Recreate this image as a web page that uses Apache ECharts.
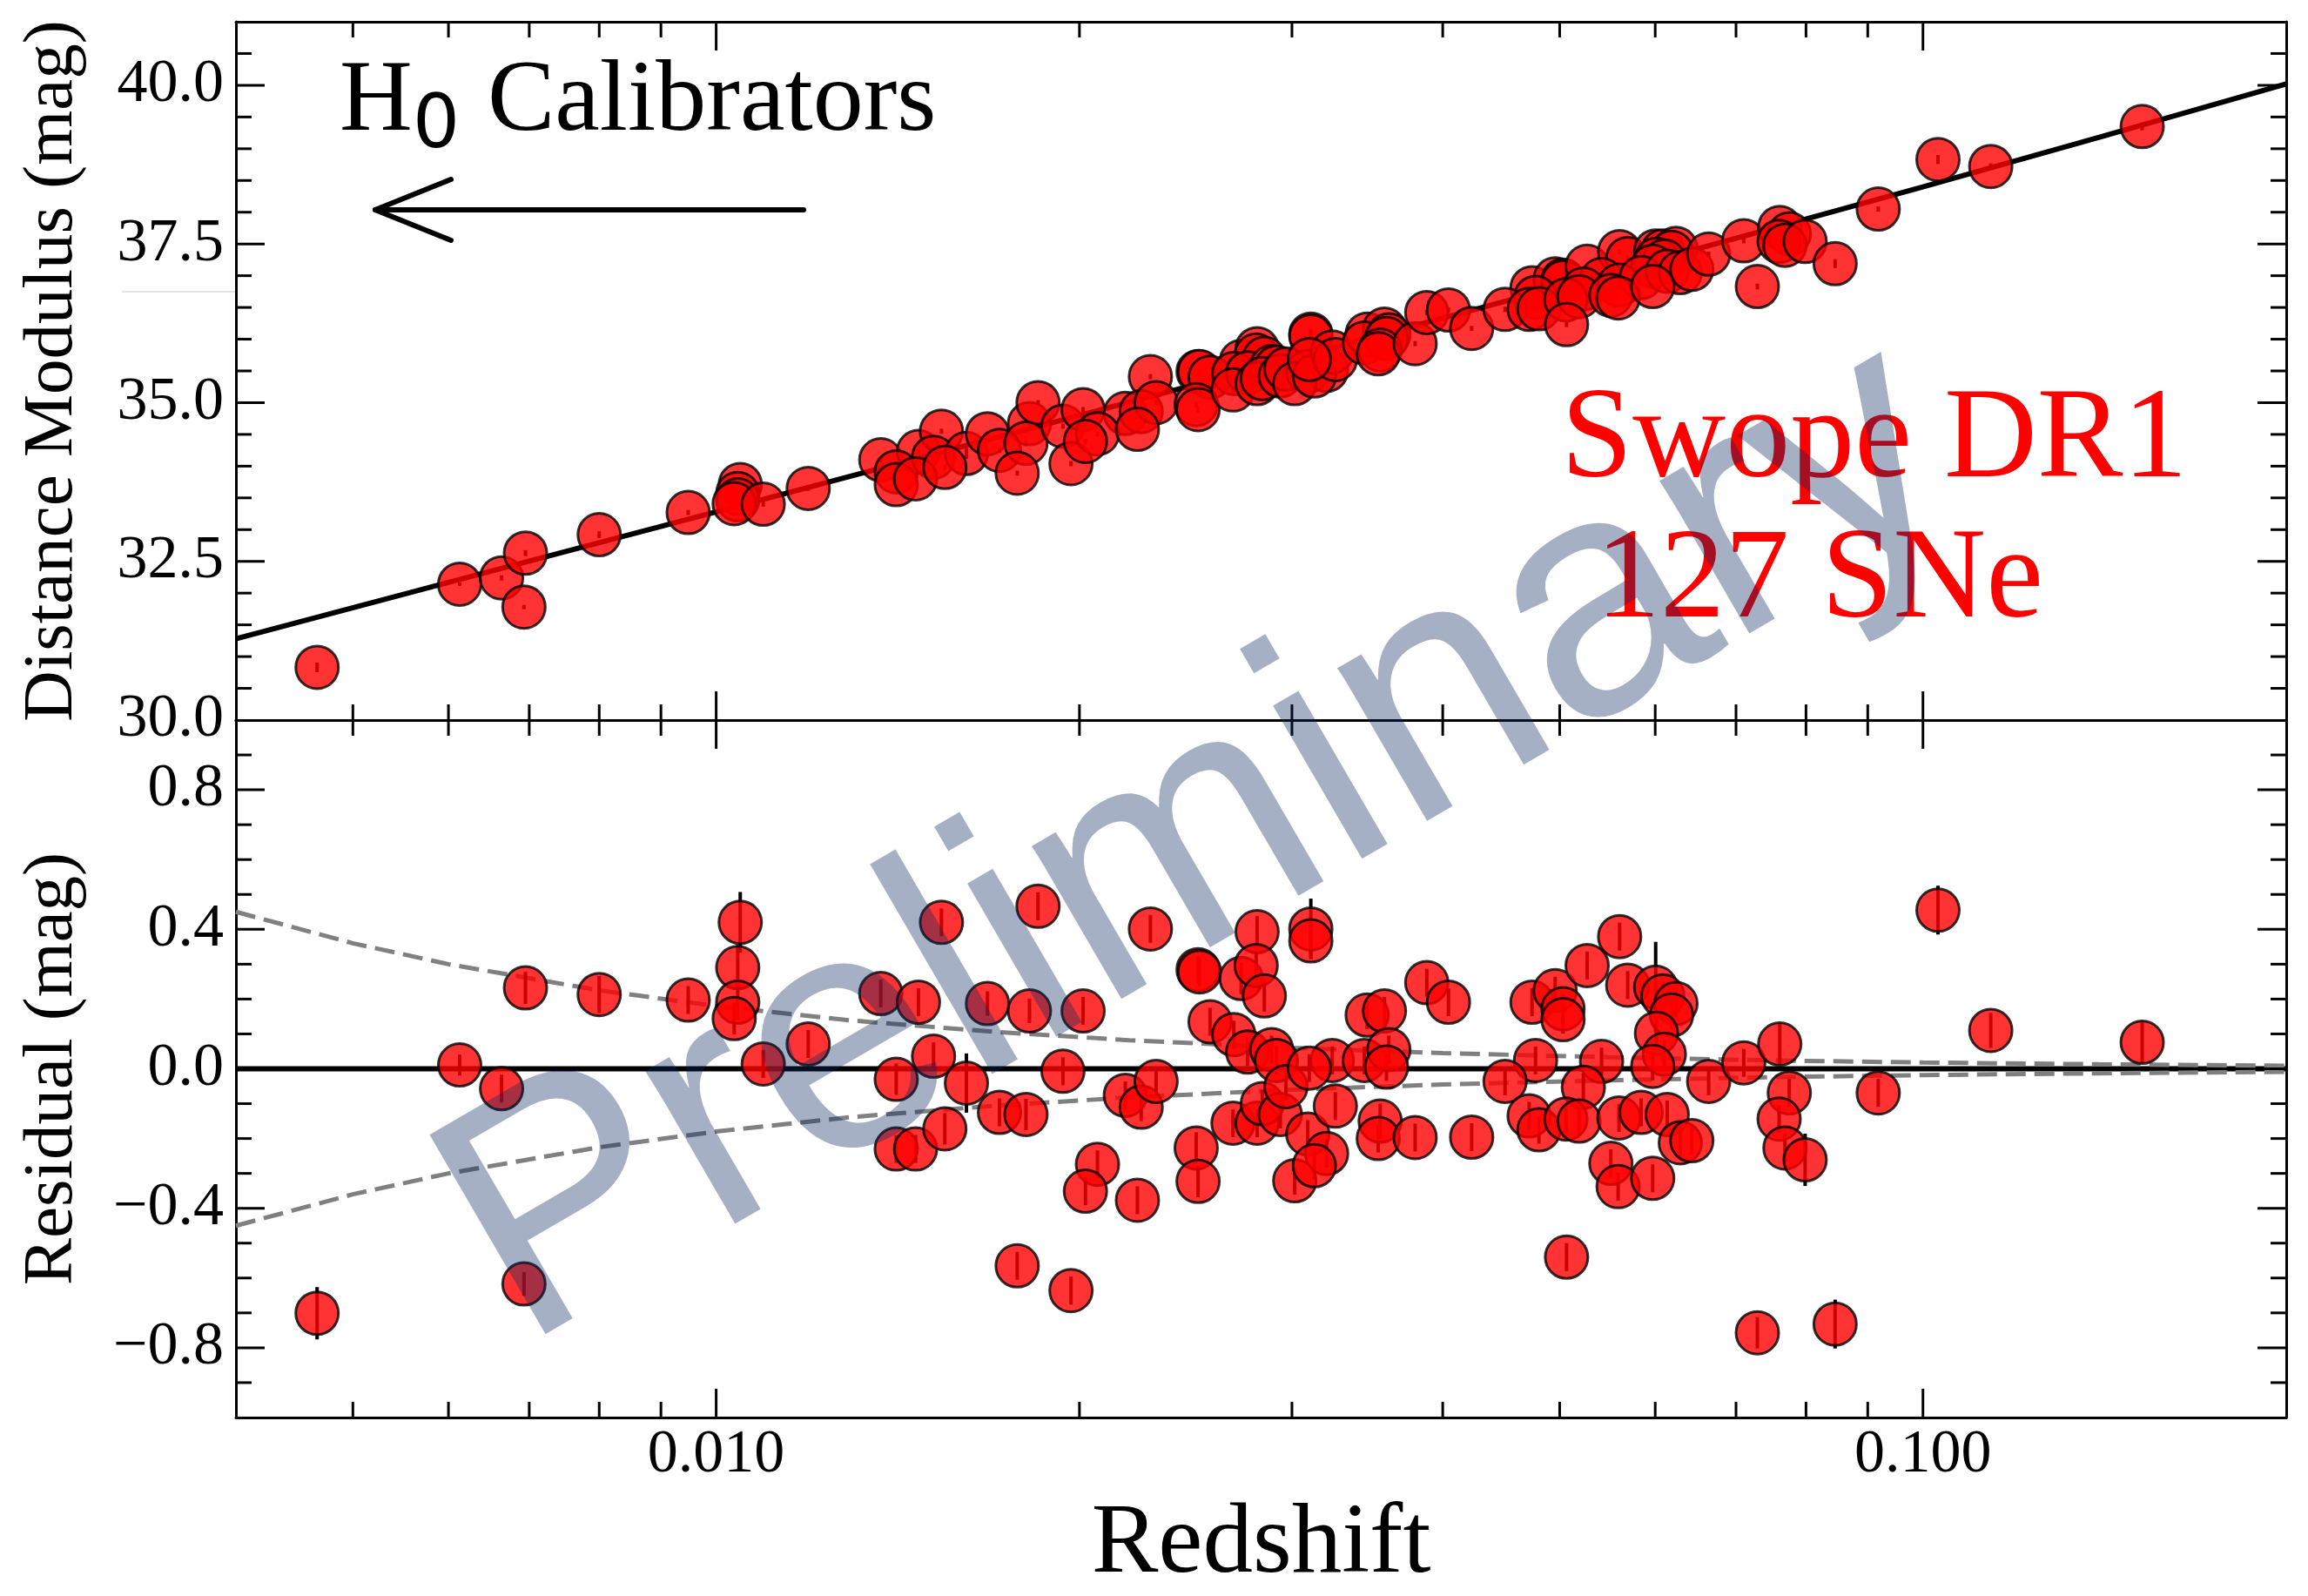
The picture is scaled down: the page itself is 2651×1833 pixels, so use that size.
<!DOCTYPE html>
<html>
<head>
<meta charset="utf-8">
<title>Swope DR1 Hubble diagram</title>
<script src="https://cdn.jsdelivr.net/npm/echarts@6.0.0/dist/echarts.min.js"></script>
<style>
html,body{margin:0;padding:0;background:#fff;}
#chart{width:2651px;height:1833px;}
</style>
</head>
<body>
<div id="chart"></div>
<script>
// one entry per SN
var redshift = [
	0.00467,0.00613,0.00664,0.00695,0.00693,0.00800,0.00948,0.01047,0.01042,0.01042,
	0.01035,0.01094,0.01192,0.01369,0.01471,0.01537,0.01410,0.01514,0.01612,0.01410,
	0.01463,0.01547,0.01678,0.01818,0.01848,0.01717,0.01806,0.01776,0.01938,0.01968,
	0.02014,0.02290,0.02508,0.02515,0.02723,0.02807,0.02802,0.02846,0.03110,0.03110,
	0.02566,0.02685,0.02757,0.02886,0.02912,0.02183,0.02250,0.02315,0.02070,0.02023,
	0.02234,0.02499,0.02508,0.02681,0.02807,0.02835,0.02934,0.02966,0.03092,0.03205,
	0.03016,0.03131,0.03240,0.03259,0.03101,0.03463,0.03579,0.03444,0.03609,0.03593,
	0.03550,0.03537,0.03795,0.03880,0.04044,0.04227,0.04743,0.04957,0.05032,0.05032,
	0.05269,0.05606,0.05693,0.06005,0.06088,0.06242,0.06190,0.06014,0.06105,0.05971,
	0.04775,0.04505,0.05416,0.05231,0.04717,0.04806,0.05060,0.05188,0.05599,0.05841,
	0.06139,0.06294,0.06434,0.05513,0.05590,0.05971,0.05066,0.06644,0.07104,0.07609,
	0.07749,0.07600,0.07685,0.07987,0.07291,0.08457,0.09182,0.10291,0.11381,0.15194
] ;
var distMod = [
	30.83,32.14,32.24,32.63,31.78,32.92,33.27,33.71,33.57,33.47,
	33.41,33.40,33.65,34.10,34.23,34.55,33.91,34.14,34.20,33.71,
	33.80,33.98,34.51,34.67,35.00,34.25,34.36,33.89,34.63,34.04,
	34.89,35.41,35.49,35.49,35.65,35.85,35.75,35.70,36.08,36.05,
	35.40,35.46,35.47,35.57,35.56,34.83,34.86,35.00,34.51,34.39,
	34.58,34.97,34.89,35.20,35.30,35.38,35.42,35.53,35.49,35.51,
	35.30,35.42,35.80,35.68,35.68,36.08,36.16,35.94,36.07,36.01,
	35.83,35.77,35.93,36.42,36.46,36.17,36.81,36.95,36.93,36.90,
	37.15,37.38,37.27,37.39,37.39,37.43,37.37,37.26,37.23,37.15,
	36.66,36.47,36.94,36.79,36.47,36.48,36.62,36.67,36.85,36.97,
	37.07,37.05,37.10,36.69,36.65,36.83,36.23,37.34,37.55,37.76,
	37.66,37.54,37.48,37.54,36.83,37.19,38.05,38.83,38.72,39.35
] ;
var resid = [
	-0.701,0.011,-0.057,0.232,-0.617,0.213,0.197,0.420,0.290,0.191,
	0.144,0.014,0.071,0.216,0.191,0.420,-0.030,0.036,-0.041,-0.230,
	-0.230,-0.172,0.187,0.166,0.466,-0.125,-0.131,-0.565,-0.007,-0.636,
	0.166,0.401,0.284,0.278,0.259,0.393,0.296,0.209,0.401,0.367,
	0.135,0.098,0.048,0.055,0.024,-0.076,-0.110,-0.036,-0.274,-0.351,
	-0.377,-0.227,-0.323,-0.156,-0.156,-0.100,-0.131,-0.051,-0.187,-0.243,
	-0.321,-0.278,0.024,-0.107,0.002,0.154,0.166,0.024,0.055,0.005,
	-0.150,-0.200,-0.197,0.247,0.191,-0.196,0.191,0.224,0.172,0.141,
	0.296,0.379,0.240,0.234,0.209,0.187,0.154,0.102,0.042,0.007,
	0.024,-0.036,0.021,-0.053,-0.135,-0.175,-0.144,-0.150,-0.141,-0.125,
	-0.131,-0.212,-0.206,-0.271,-0.338,-0.314,-0.540,-0.036,0.017,0.071,
	-0.069,-0.144,-0.227,-0.261,-0.757,-0.732,-0.069,0.455,0.110,0.076
] ;
var resErr = [
	0.075,0.030,0.040,0.046,0.034,0.053,0.040,0.087,0.065,0.050,
	0.045,0.040,0.040,0.040,0.040,0.040,0.045,0.040,0.085,0.040,
	0.040,0.045,0.035,0.035,0.040,0.040,0.045,0.040,0.040,0.040,
	0.040,0.040,0.040,0.040,0.045,0.045,0.040,0.045,0.087,0.050,
	0.040,0.040,0.040,0.040,0.040,0.040,0.040,0.040,0.040,0.040,
	0.040,0.045,0.045,0.040,0.040,0.040,0.040,0.040,0.040,0.040,
	0.040,0.040,0.040,0.040,0.040,0.040,0.040,0.040,0.040,0.040,
	0.050,0.040,0.040,0.040,0.040,0.040,0.040,0.040,0.040,0.040,
	0.040,0.040,0.040,0.130,0.040,0.040,0.040,0.040,0.040,0.040,
	0.040,0.040,0.040,0.040,0.040,0.040,0.040,0.040,0.040,0.040,
	0.040,0.040,0.040,0.040,0.040,0.040,0.040,0.040,0.040,0.060,
	0.040,0.040,0.040,0.075,0.045,0.070,0.040,0.070,0.050,0.060
] ;

// Hubble law line of the upper panel
var lineZ = [0.004,0.006,0.01,0.02,0.03,0.05,0.07,0.1,0.14,0.2] ;
var lineMu = [31.28,32.17,33.28,34.80,35.69,36.83,37.59,38.40,39.18,40.02] ;
// residual panel : zero line and velocity envelope
var zeroZ = [0.004,0.2] ;
var zeroVal = [0,0] ;
var sigZ = [0.004,0.005,0.006,0.008,0.01,0.013,0.017,0.022,0.03,0.04,0.055,0.075,0.1,0.14,0.2] ;
var sigUp = [0.45,0.36,0.30,0.225,0.18,0.138,0.106,0.082,0.060,0.045,0.033,0.024,0.018,0.013,0.009] ;
var sigDn = [-0.45,-0.36,-0.30,-0.225,-0.18,-0.138,-0.106,-0.082,-0.060,-0.045,-0.033,-0.024,-0.018,-0.013,-0.009] ;

// ticks
var xMajor = [0.01,0.1] ;
var xMinor = [0.005,0.006,0.007,0.008,0.009,0.02,0.03,0.04,0.05,0.06,0.07,0.08,0.09] ;
var muMajor = [32.5,35,37.5,40] ;
var muMinor = [30.5,31,31.5,32,33,33.5,34,34.5,35.5,36,36.5,37,38,38.5,39,39.5,40.5] ;
var resMajor = [-0.8,-0.4,0,0.4,0.8] ;
var resMinor = [-0.9,-0.7,-0.6,-0.5,-0.3,-0.2,-0.1,0.1,0.2,0.3,0.5,0.6,0.7,0.9] ;

var SERIF = '"Liberation Serif", "Times New Roman", serif' ;
var MAJ = 33, MIN = 18 ;

function inList(list, v){
	for(var i = 0; i < list.length; i++){
		if(Math.abs(list[i] - v) < 1e-6) return true ;
	}
	return false ;
}

function zip(a, b){
	var out = [] ;
	for(var i = 0; i < a.length; i++) out.push([a[i], b[i]]) ;
	return out ;
}

function tickRows(major, minor, fixed, isX){
	var rows = [] ;
	major.forEach(function(v){ rows.push(isX ? [v, fixed, 1] : [fixed, v, 1]) ; }) ;
	minor.forEach(function(v){ rows.push(isX ? [v, fixed, 0] : [fixed, v, 0]) ; }) ;
	return rows ;
}

function seg(x1, y1, x2, y2, w){
	return {type:'line', shape:{x1:x1,y1:y1,x2:x2,y2:y2}, style:{stroke:'#000', lineWidth:w || 3}} ;
}

function xTickItem(params, api){
	var cs = params.coordSys ;
	var px = api.coord([api.value(0), api.value(1)])[0] ;
	var len = api.value(2) ? MAJ : MIN ;
	var bot = cs.y + cs.height ;
	return {type:'group', children:[seg(px, bot, px, bot - len), seg(px, cs.y, px, cs.y + len)]} ;
}

function yTickItem(params, api){
	var cs = params.coordSys ;
	var py = api.coord([api.value(0), api.value(1)])[1] ;
	var len = api.value(2) ? MAJ : MIN ;
	var right = cs.x + cs.width ;
	return {type:'group', children:[seg(cs.x, py, cs.x + len, py), seg(right, py, right - len, py)]} ;
}

function errItem(params, api){
	var lo = api.coord([api.value(0), api.value(1) - api.value(2)]) ;
	var hi = api.coord([api.value(0), api.value(1) + api.value(2)]) ;
	return {type:'line', shape:{x1:lo[0],y1:lo[1],x2:hi[0],y2:hi[1]}, style:{stroke:'#000', lineWidth:4}} ;
}

function xAxisDef(grid, pos, showLabel, name){
	return {
		type:'log', logBase:10, min:0.004, max:0.2, gridIndex:grid, position:pos,
		axisLine:{show:true, onZero:false, lineStyle:{color:'#000', width:3}},
		axisTick:{show:false}, splitLine:{show:false}, minorTick:{show:false},
		axisLabel:{show:showLabel, margin:9, color:'#000', fontFamily:SERIF, fontSize:70,
			formatter:function(v){ return inList(xMajor, v) ? v.toFixed(3) : '' ; }},
		name:name || '', nameLocation:'middle', nameGap:89,
		nameTextStyle:{color:'#000', fontFamily:SERIF, fontSize:115}
	} ;
}

function yAxisDef(grid, pos, min, max, step, fmt, name){
	return {
		type:'value', min:min, max:max, interval:step, gridIndex:grid, position:pos,
		axisLine:{show:true, onZero:false, lineStyle:{color:'#000', width:3}},
		axisTick:{show:false}, splitLine:{show:false},
		axisLabel:{show:!!fmt, margin:14, color:'#000', fontFamily:SERIF, fontSize:70, formatter:fmt},
		name:name || '', nameLocation:'middle', nameRotate:90, nameGap:170,
		nameTextStyle:{color:'#000', fontFamily:SERIF, fontSize:81}
	} ;
}

var muFmt = function(v){ return v <= 40.001 ? v.toFixed(1) : '' ; } ;
var resFmt = function(v){
	if(!inList(resMajor, v)) return '' ;
	if(Math.abs(v) < 1e-6) return '0.0' ;
	return v.toFixed(1).replace('-', '\u2212') ;
} ;

var pointStyle = {color:'rgba(255,0,0,0.8)', borderColor:'rgba(0,0,0,0.8)', borderWidth:3, opacity:1} ;

function errRows(vals){
	var rows = [] ;
	for(var i = 0; i < redshift.length; i++) rows.push([redshift[i], vals[i], resErr[i]]) ;
	return rows ;
}

var option = {
	backgroundColor:'#fff',
	animation:false,
	grid:[
		{left:271, top:25, width:2355, height:802},
		{left:271, top:827, width:2355, height:802}
	],
	xAxis:[
		xAxisDef(0, 'bottom', false),
		xAxisDef(0, 'top', false),
		xAxisDef(1, 'bottom', true, 'Redshift'),
		xAxisDef(1, 'top', false)
	],
	yAxis:[
		yAxisDef(0, 'left', 30, 41, 2.5, muFmt, 'Distance Modulus (mag)'),
		yAxisDef(0, 'right', 30, 41, 2.5, null),
		yAxisDef(1, 'left', -1, 1, 0.2, resFmt, 'Residual (mag)'),
		yAxisDef(1, 'right', -1, 1, 0.2, null)
	],
	series:[
		{type:'line', xAxisIndex:0, yAxisIndex:0, data:zip(lineZ, lineMu), symbol:'none', z:2,
			lineStyle:{color:'#000', width:6}},
		{type:'custom', xAxisIndex:0, yAxisIndex:0, data:errRows(distMod), renderItem:errItem, z:3},
		{type:'scatter', xAxisIndex:0, yAxisIndex:0, data:zip(redshift, distMod), symbolSize:49, z:4,
			itemStyle:pointStyle},
		{type:'line', xAxisIndex:2, yAxisIndex:2, data:zip(zeroZ, zeroVal), symbol:'none', z:2,
			lineStyle:{color:'#000', width:6}},
		{type:'line', xAxisIndex:2, yAxisIndex:2, data:zip(sigZ, sigUp), symbol:'none', z:2,
			lineStyle:{color:'#808080', width:5, type:[23, 10]}},
		{type:'line', xAxisIndex:2, yAxisIndex:2, data:zip(sigZ, sigDn), symbol:'none', z:2,
			lineStyle:{color:'#808080', width:5, type:[23, 10]}},
		{type:'custom', xAxisIndex:2, yAxisIndex:2, data:errRows(resid), renderItem:errItem, z:3},
		{type:'scatter', xAxisIndex:2, yAxisIndex:2, data:zip(redshift, resid), symbolSize:49, z:4,
			itemStyle:pointStyle},
		{type:'custom', xAxisIndex:0, yAxisIndex:0, data:tickRows(xMajor, xMinor, 30, true), renderItem:xTickItem, z:5},
		{type:'custom', xAxisIndex:0, yAxisIndex:0, data:tickRows(muMajor, muMinor, 0.01, false), renderItem:yTickItem, z:5},
		{type:'custom', xAxisIndex:2, yAxisIndex:2, data:tickRows(xMajor, xMinor, -1, true), renderItem:xTickItem, z:5},
		{type:'custom', xAxisIndex:2, yAxisIndex:2, data:tickRows(resMajor, resMinor, 0.01, false), renderItem:yTickItem, z:5}
	],
	graphic:[
		{type:'text', x:390, y:119, z:50, style:{text:'H', font:'116px ' + SERIF, fill:'#000', verticalAlign:'middle'}},
		{type:'text', x:474, y:147, z:50, style:{text:'0', font:'85px "DejaVu Sans"', fill:'#000', verticalAlign:'middle'}},
		{type:'text', x:560, y:119, z:50, style:{text:'Calibrators', font:'116px ' + SERIF, fill:'#000', verticalAlign:'middle'}},
		{type:'line', z:50, shape:{x1:923, y1:241, x2:433, y2:241}, style:{stroke:'#000', lineWidth:6, lineCap:'round'}},
		{type:'line', z:50, shape:{x1:431, y1:241, x2:518, y2:206}, style:{stroke:'#000', lineWidth:6, lineCap:'round'}},
		{type:'line', z:50, shape:{x1:431, y1:241, x2:518, y2:276}, style:{stroke:'#000', lineWidth:6, lineCap:'round'}},
		{type:'line', z:50, shape:{x1:140, y1:335, x2:270, y2:335}, style:{stroke:'#c8c8c8', lineWidth:1}},
		{type:'text', x:1793, y:508, z:50, style:{text:'Swope DR1', font:'148px ' + SERIF, fill:'#ff0000', verticalAlign:'middle'}},
		{type:'text', x:1833, y:669, z:50, style:{text:'127 SNe', font:'148px ' + SERIF, fill:'#ff0000', verticalAlign:'middle'}},
		{type:'text', x:1378, y:972, z:100, rotation:30.2 * Math.PI / 180,
			style:{text:'Preliminary', font:'385px "Liberation Sans", Arial, sans-serif', fill:'rgba(10,40,95,0.37)',
				align:'center', verticalAlign:'middle'}}
	]
} ;

var chart = echarts.init(document.getElementById('chart')) ;
chart.setOption(option) ;
</script>
</body>
</html>
